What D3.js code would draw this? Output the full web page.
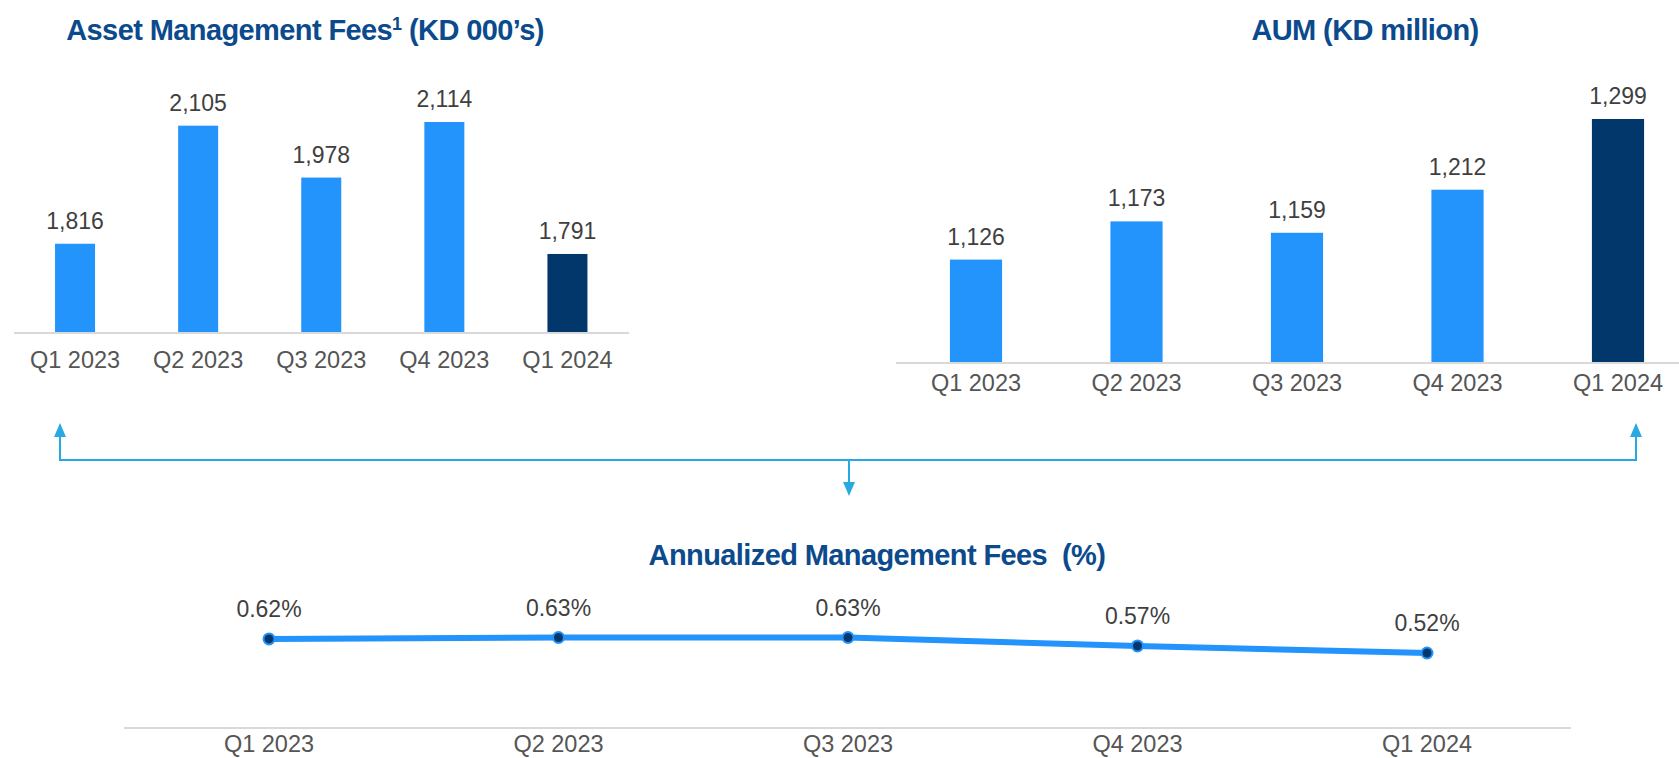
<!DOCTYPE html>
<html>
<head>
<meta charset="utf-8">
<script src="https://cdn.jsdelivr.net/npm/d3@7"></script>
<style>
  body { margin: 0; background: #fff; }
  svg { display: block; font-family: "Liberation Sans", Arial, sans-serif; }
  .title { fill: #0b4a8c; font-weight: bold; font-size: 29px; letter-spacing: -0.6px; }
  .val { fill: #3f3f3f; font-size: 23px; }
  .tick-lbl { fill: #555; font-size: 23.5px; }
</style>
</head>
<body>
<svg id="chart" width="1679" height="758"></svg>
<script>
let quarters = ['Q1 2023', 'Q2 2023', 'Q3 2023', 'Q4 2023', 'Q1 2024'];
let feeValues = [1816, 2105, 1978, 2114, 1791];
let aumValues = [1126, 1173, 1159, 1212, 1299];
let ratePct = [0.62, 0.63, 0.63, 0.57, 0.52];

let lightBlue = '#2294fb';
let darkBlue = '#01376a';
let linkBlue = '#29a9e1';

let svg = d3.select('#chart');
let svgDim = {'w': +svg.attr('width'), 'h': +svg.attr('height')};
let fmt = d3.format(',');

function drawBars(values, opt) {
    let g = svg.append('g');
    // pad = gap share of each step, split evenly either side of the bar
    let x = d3.scaleBand().domain(quarters).range(opt.xRange)
        .paddingInner(opt.pad).paddingOuter(opt.pad / 2);
    let y = d3.scaleLinear().domain(opt.yDomain).range([opt.base, opt.top]);

    // axis line
    g.append('line')
        .attr('x1', opt.axisX[0]).attr('x2', opt.axisX[1])
        .attr('y1', opt.base + 1).attr('y2', opt.base + 1)
        .attr('stroke', '#d9d9d9').attr('stroke-width', 2);

    g.selectAll('rect.bar').data(values).enter().append('rect')
        .attr('class', 'bar')
        .attr('x', (d, i) => x(quarters[i]))
        .attr('width', x.bandwidth())
        .attr('y', (d) => y(d))
        .attr('height', (d) => opt.base - y(d))
        .attr('fill', (d, i) => i === quarters.length - 1 ? darkBlue : lightBlue);

    g.selectAll('text.val').data(values).enter().append('text')
        .attr('class', 'val')
        .attr('x', (d, i) => x(quarters[i]) + x.bandwidth() / 2)
        .attr('y', (d) => y(d) - 15)
        .attr('text-anchor', 'middle')
        .text((d) => fmt(d));

    g.selectAll('text.tick-lbl').data(quarters).enter().append('text')
        .attr('class', 'tick-lbl')
        .attr('x', (d) => x(d) + x.bandwidth() / 2)
        .attr('y', opt.base + opt.tickDy)
        .attr('text-anchor', 'middle')
        .text((d) => d);
}

// left: asset management fees
drawBars(feeValues, {
    xRange: [13.5, 629], pad: 0.675, yDomain: [1600, 2114],
    base: 332, top: 122, axisX: [14, 629], tickDy: 36
});
let t1 = svg.append('text').attr('class', 'title')
    .attr('x', 305).attr('y', 40).attr('text-anchor', 'middle');
t1.append('tspan').text('Asset Management Fees');
t1.append('tspan').attr('dy', -10).attr('font-size', 18).text('1');
t1.append('tspan').attr('dy', 10).text(' (KD 000\u2019s)');

// right: AUM
drawBars(aumValues, {
    xRange: [895.75, 1698.25], pad: 0.675, yDomain: [1000, 1299],
    base: 362, top: 119, axisX: [896, svgDim.w], tickDy: 29
});
svg.append('text').attr('class', 'title')
    .attr('x', 1365).attr('y', 40).attr('text-anchor', 'middle')
    .text('AUM (KD million)');

// connector arrows ----------------------------------------------------------
let link = svg.append('g').attr('stroke', linkBlue).attr('stroke-width', 2).attr('fill', 'none');
link.append('path').attr('d', 'M60,435 V460 H1636 V435');
link.append('path').attr('d', 'M849,460 V484');
let heads = svg.append('g').attr('fill', linkBlue);
heads.append('path').attr('d', 'M60,423 L54,437 L66,437 Z');
heads.append('path').attr('d', 'M1636,423 L1630,437 L1642,437 Z');
heads.append('path').attr('d', 'M849,496 L843,482 L855,482 Z');

// bottom: annualized management fees line ---------------------------------
let lx = d3.scalePoint().domain(quarters).range([269, 1427]);
let ly = d3.scaleLinear().domain([0.52, 0.63]).range([653, 637.5]);

svg.append('line')
    .attr('x1', 124).attr('x2', 1571).attr('y1', 728).attr('y2', 728)
    .attr('stroke', '#d9d9d9').attr('stroke-width', 2);

let line = d3.line()
    .x((d, i) => lx(quarters[i]))
    .y((d) => ly(d));

svg.append('path')
    .datum(ratePct)
    .attr('fill', 'none')
    .attr('stroke', lightBlue)
    .attr('stroke-width', 6)
    .attr('d', line);

svg.selectAll('circle.pt').data(ratePct).enter().append('circle')
    .attr('class', 'pt')
    .attr('cx', (d, i) => lx(quarters[i]))
    .attr('cy', (d) => ly(d))
    .attr('r', 5.5)
    .attr('fill', darkBlue)
    .attr('stroke', lightBlue)
    .attr('stroke-width', 2);

svg.selectAll('text.pct').data(ratePct).enter().append('text')
    .attr('class', 'val')
    .attr('x', (d, i) => lx(quarters[i]))
    .attr('y', (d) => ly(d) - 22)
    .attr('text-anchor', 'middle')
    .text((d) => d.toFixed(2) + '%');

svg.selectAll('text.btick').data(quarters).enter().append('text')
    .attr('class', 'tick-lbl')
    .attr('x', (d) => lx(d))
    .attr('y', 752)
    .attr('text-anchor', 'middle')
    .text((d) => d);

svg.append('text').attr('class', 'title')
    .attr('x', 877).attr('y', 565).attr('text-anchor', 'middle')
    .attr('xml:space', 'preserve')
    .text('Annualized Management Fees  (%)');
</script>
</body>
</html>
